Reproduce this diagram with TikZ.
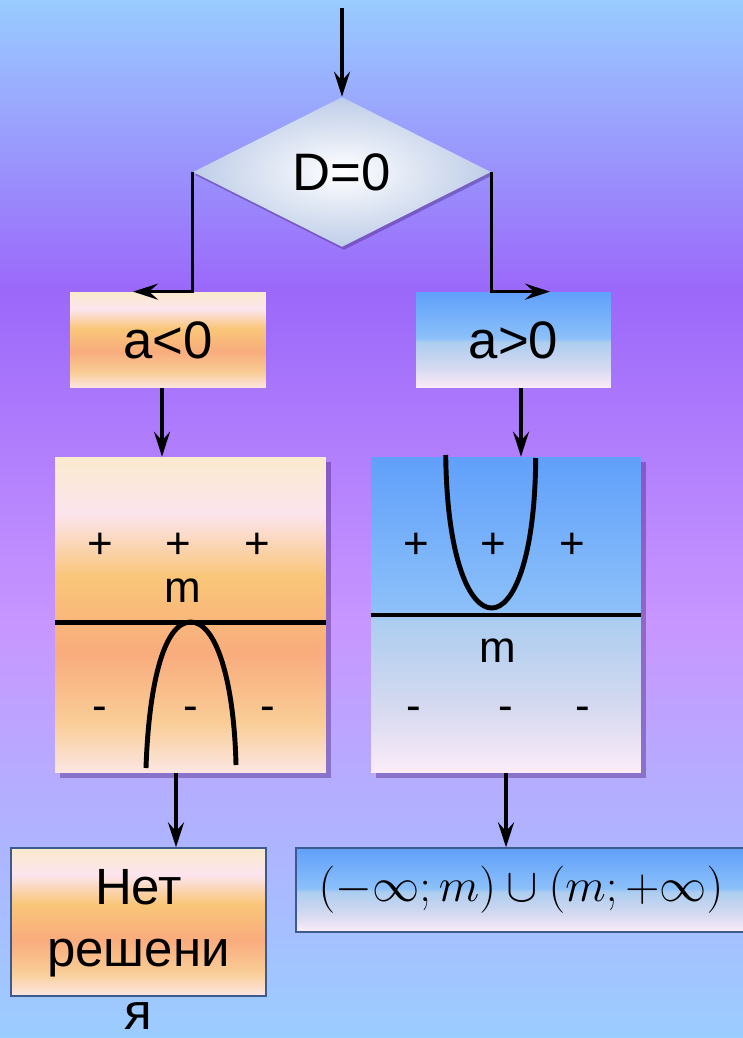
\documentclass[tikz,border=0pt]{standalone}
\usepackage[no-math]{fontspec}
\usepackage{graphicx}
\setmainfont{Liberation Sans}
\usetikzlibrary{positioning, shapes.geometric, arrows.meta, shadows}

\definecolor{bgtop}{RGB}{153,204,255}
\definecolor{bgvio}{RGB}{155,104,250}
\definecolor{bgmid}{RGB}{200,150,255}
\definecolor{bglow}{RGB}{178,176,255}
\definecolor{bgbot}{RGB}{155,205,255}
\definecolor{pchtop}{RGB}{250,234,205}
\definecolor{pchpink}{RGB}{252,228,238}
\definecolor{pchorange}{RGB}{249,198,120}
\definecolor{pchsalmon}{RGB}{249,172,125}
\definecolor{pchlight}{RGB}{249,205,150}
\definecolor{pchbot}{RGB}{252,230,228}
\definecolor{blutop}{RGB}{96,160,250}
\definecolor{blumid}{RGB}{140,192,250}
\definecolor{bluhaze}{RGB}{172,205,240}
\definecolor{blupale}{RGB}{215,218,240}
\definecolor{blubot}{RGB}{252,236,248}
\definecolor{dmdedge}{RGB}{190,205,232}
\definecolor{boxline}{RGB}{60,90,140}
\definecolor{shadowvio}{RGB}{70,30,120}

\pgfdeclareverticalshading{bgshade}{100bp}{color(0bp)=(bgbot); color(25bp)=(bgbot); color(36bp)=(bglow); color(45bp)=(bgmid); color(61bp)=(bgvio); color(75bp)=(bgtop); color(100bp)=(bgtop)}
\pgfdeclareverticalshading{peachshade}{100bp}{color(0bp)=(pchbot); color(25bp)=(pchbot); color(33bp)=(pchlight); color(44bp)=(pchsalmon); color(56bp)=(pchorange); color(66bp)=(pchpink); color(75bp)=(pchtop); color(100bp)=(pchtop)}
\pgfdeclareverticalshading{blueshade}{100bp}{color(0bp)=(blubot); color(25bp)=(blubot); color(35bp)=(blupale); color(49bp)=(bluhaze); color(51bp)=(blumid); color(75bp)=(blutop); color(100bp)=(blutop)}

\begin{document}
\begin{tikzpicture}[x=0.02cm, y=-0.02cm]
    % Define styles
    \tikzstyle{arrow} = [line width=2pt, -{Stealth[length=5mm, width=3.2mm, inset=1.8mm]}]
    \tikzstyle{decision} = [diamond, aspect=2, inner sep=0pt, minimum width=5.96cm, minimum height=3cm, shade, shading=radial, inner color=white, outer color=dmdedge, drop shadow={shadow xshift=0.04cm, shadow yshift=-0.06cm, fill=shadowvio, opacity=0.4}, font=\fontsize{30}{36}\selectfont]
    \tikzstyle{peachbox} = [rectangle, inner sep=0pt, shade, shading=peachshade, font=\fontsize{30}{36}\selectfont]
    \tikzstyle{bluebox} = [rectangle, inner sep=0pt, shade, shading=blueshade, font=\fontsize{30}{36}\selectfont]
    \tikzstyle{graphbox} = [drop shadow={shadow xshift=0.1cm, shadow yshift=-0.1cm, fill=shadowvio, opacity=0.4}]
    \tikzstyle{outlined} = [draw=boxline, line width=0.8pt]
    \tikzstyle{signtext} = [font=\fontsize{25}{30}\selectfont, inner sep=0pt, anchor=base]
    \tikzstyle{graphline} = [line width=2.8pt]

    % Background
    \useasboundingbox (0,0) rectangle (743,1038);
    \shade[shading=bgshade] (0,0) rectangle (743,1038);

    % Nodes
    \coordinate (entry) at (342,8);
    \node (cond) [decision] at (342,172) {D=0};
    \node (aneg) [peachbox, minimum width=3.92cm, minimum height=1.92cm] at (168,340) {a<0};
    \node (apos) [bluebox, minimum width=3.9cm, minimum height=1.92cm] at (513.5,340) {a>0};
    \node (gneg) [peachbox, graphbox, minimum width=5.42cm, minimum height=6.32cm] at (190.5,615) {};
    \node (gpos) [bluebox, graphbox, minimum width=5.4cm, minimum height=6.32cm] at (506,615) {};
    \node (nosol) [peachbox, outlined, minimum width=5.1cm, minimum height=2.96cm] at (138.5,922) {};
    \node (nosoltext) [align=center, anchor=north, inner sep=0pt, font=\fontsize{29}{35.5}\selectfont] at (138.5,869) {Нет\\решени\\я};
    \node (interval) [bluebox, outlined, minimum width=9cm, minimum height=1.68cm, font=\Huge] at (521,890) {\scalebox{1.08}{$(-\infty;m)\cup(m;+\infty)$}};

    % Sign charts
    \foreach \x [count=\i] in {100.5,178.5,257} \node (negplus\i) [signtext] at (\x,558) {+};
    \foreach \x [count=\i] in {99.5,190.5,268} \node (negminus\i) [signtext] at (\x,720) {-};
    \node (negroot) [signtext] at (183,602) {m};
    \draw[graphline] (55,622.7) -- (326,622.7);
    \draw[graphline] (146,768) .. controls (149,680) and (165,622) .. (190.7,622) .. controls (216,622) and (234,680) .. (236,765);

    \foreach \x [count=\i] in {416.5,493.5,572} \node (posplus\i) [signtext] at (\x,558) {+};
    \foreach \x [count=\i] in {414,505.5,583} \node (posminus\i) [signtext] at (\x,720) {-};
    \node (posroot) [signtext] at (498,662) {m};
    \draw[graphline] (371,615) -- (641,615);
    \draw[graphline] (445.7,455) .. controls (447,560) and (470,608) .. (491.7,608) .. controls (513,608) and (535,560) .. (535.7,458);

    % Arrows
    \coordinate (lturn) at ([xshift=-0.7cm]aneg.north);
    \coordinate (rturn) at ([xshift=0.73cm]apos.north);
    \coordinate (anegout) at ([xshift=-0.12cm]aneg.south);
    \coordinate (aposout) at ([xshift=0.15cm]apos.south);
    \coordinate (gnegout) at ([xshift=-0.29cm]gneg.south);
    \draw [arrow] (entry) -- (cond);
    \draw [arrow] (cond.west) |- (lturn);
    \draw [arrow] (cond.east) |- (rturn);
    \draw [arrow] (anegout) -- (anegout |- gneg.north);
    \draw [arrow] (aposout) -- (aposout |- gpos.north);
    \draw [arrow] (gnegout) -- (gnegout |- nosol.north);
    \draw [arrow] (gpos.south) -- (gpos.south |- interval.north);
\end{tikzpicture}
\end{document}
